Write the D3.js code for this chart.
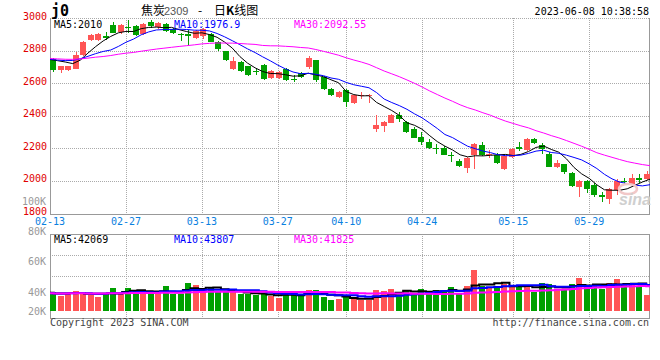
<!DOCTYPE html>
<html><head><meta charset="utf-8">
<script src="https://cdn.jsdelivr.net/npm/d3@7/dist/d3.min.js"></script>
<style>body{margin:0;background:#fff}svg{display:block}</style>
</head><body><svg id="c" width="660" height="360"></svg>
<script>
// ---------- data ----------
const dates = ["02-13","02-14","02-15","02-16","02-17","02-20","02-21","02-22","02-23","02-24","02-27","02-28",
"03-01","03-02","03-03","03-06","03-07","03-08","03-09","03-10","03-13","03-14","03-15","03-16","03-17","03-20","03-21","03-22","03-23","03-24","03-27","03-28","03-29","03-30","03-31",
"04-03","04-04","04-06","04-07","04-10","04-11","04-12","04-13","04-14","04-17","04-18","04-19","04-20","04-21","04-24","04-25","04-26","04-27","04-28",
"05-04","05-05","05-08","05-09","05-10","05-11","05-12","05-15","05-16","05-17","05-18","05-19","05-22","05-23","05-24","05-25","05-26","05-29","05-30","05-31",
"06-01","06-02","06-05","06-06","06-07","06-08"];
const opens  = [2751,2683,2680,2690,2771,2865,2868,2892,2960,2915,2945,2948,2900,2976,2945,2966,2935,2904,2900,2880,2888,2900,2855,2795,2690,2730,2703,2672,2710,2633,2630,2690,2627,2660,2700,2740,2638,2567,2515,2561,2479,2523,2520,2321,2338,2358,2403,2362,2317,2270,2236,2203,2205,2162,2123,2082,2158,2223,2160,2158,2076,2147,2209,2188,2256,2223,2168,2086,2102,2049,1963,2000,1974,1912,1886,1943,2000,1984,2015,2009];
const highs  = [2757,2706,2708,2790,2856,2900,2905,2915,2975,2965,2990,2955,2970,2985,2975,2972,2940,2910,2925,2925,2940,2905,2860,2800,2762,2735,2708,2690,2715,2680,2675,2695,2650,2670,2765,2745,2645,2570,2550,2565,2530,2545,2535,2402,2365,2410,2423,2365,2330,2300,2256,2225,2215,2178,2135,2145,2235,2240,2190,2170,2160,2200,2240,2262,2262,2230,2175,2130,2105,2055,2003,2005,1985,1932,1958,2010,2020,2045,2045,2060];
const lows   = [2668,2663,2677,2686,2768,2858,2860,2865,2905,2900,2910,2890,2895,2940,2930,2915,2900,2860,2826,2870,2870,2850,2800,2738,2683,2670,2645,2650,2620,2628,2625,2612,2605,2630,2690,2610,2560,2520,2510,2454,2475,2505,2479,2301,2300,2355,2362,2295,2262,2219,2195,2168,2160,2117,2085,2049,2076,2150,2140,2105,2070,2140,2185,2185,2225,2165,2085,2080,2040,1960,1902,1923,1900,1871,1861,1912,1978,1975,1990,2005];
const closes = [2680,2703,2705,2771,2850,2895,2900,2880,2910,2960,2938,2898,2966,2949,2970,2920,2908,2895,2890,2918,2935,2853,2812,2742,2735,2675,2653,2666,2628,2675,2670,2620,2622,2637,2757,2617,2567,2526,2546,2485,2526,2527,2530,2341,2360,2403,2377,2301,2266,2239,2205,2195,2162,2150,2090,2141,2229,2158,2168,2107,2151,2194,2195,2256,2232,2195,2088,2110,2052,1967,2000,1949,1912,1900,1953,1998,1995,2017,2003,2041];
// closes of the 29 sessions before 02-13 (needed for the moving averages)
const prevCloses = [2760,2775,2790,2770,2745,2730,2755,2730,2720,2745,2765,2740,2750,2770,2760,2745,2735,2750,2765,2760,2755,2740,2760,2745,2745,2738,2745,2821,2741];
const volumes = [32000,25200,28100,33700,32000,26500,23600,28100,38700,30300,38700,34800,32000,29300,28100,41600,29300,29300,47100,43300,34800,40400,32000,32000,32000,29300,29300,26500,29300,24700,22500,33200,26500,24700,34800,34800,23600,18000,19700,24700,21900,18000,18000,34800,33200,36600,29800,34800,28100,36600,32000,34800,33200,39900,30400,41600,68600,41600,39900,41600,44400,40400,41600,40400,32000,47200,45000,34800,37600,45500,55600,40400,43300,37600,47200,53400,45000,45000,40400,26500];
const prevVolumes = [31500,27200,30800,26400,33100,29000,28300,31900,27500,30200,29600,26800,32400,28700,30100,29300,27900,31200,28400,30600,29800,28200,30900,27700,29500,30400,28600,29900,31000];
const priceTicks = [1800,2000,2200,2400,2600,2800,3000];
const volTicks = [100000,80000,60000,40000,20000];
const dateTicks = ["02-13","02-27","03-13","03-27","04-10","04-24","05-15","05-29"];
const priceMaLabels = ["MA5:2010","MA10:1976.9","MA30:2092.55"];
const volMaLabels = ["MA5:42069","MA10:43807","MA30:41825"];
const maColors = ["#000000","#0000ff","#ff00ff"];
const maPeriods = [5,10,30];

// ---------- setup ----------
const svg = d3.select("#c");
const MONO = "'DejaVu Sans Mono', monospace";
const RED = "#ff5555", GREEN = "#00a000";
const n = closes.length;
const L = 50, R = 650, PT = 18, PB = 213.5, VT = 234, VB = 318;

const xBand = d3.scaleBand().domain(d3.range(n)).range([L, R]).paddingInner(0.2).paddingOuter(0);
const xLin = d3.scaleLinear().domain([0, n - 1]).range([L, R]);
const yP = d3.scaleLinear().domain([1800, 3000]).range([PB, PT]);
const yV = d3.scaleLinear().domain([0, 129000]).range([311, VT]);
const yVLabel = d3.scaleLinear().domain([40000, 100000]).range([292, 201.5]);

function ma(prev, cur, p) {
  const all = prev.concat(cur), off = prev.length;
  return cur.map((_, i) => d3.mean(all.slice(off + i - p + 1, off + i + 1)));
}
const crisp = v => Math.round(v) + 0.5;
const tickIdx = dateTicks.map(t => dates.indexOf(t));

// ---------- grids ----------
const grid = svg.append("g").attr("stroke", "#aaa").attr("stroke-dasharray", "1,1").attr("shape-rendering", "crispEdges");
priceTicks.filter(t => t > 1800).forEach(t => {
  grid.append("line").attr("x1", L).attr("x2", R).attr("y1", crisp(yP(t))).attr("y2", crisp(yP(t)));
});
tickIdx.filter(i => i > 0).forEach(i => {
  const x = crisp(xLin(i));
  grid.append("line").attr("x1", x).attr("x2", x).attr("y1", PT).attr("y2", PB);
  grid.append("line").attr("x1", x).attr("x2", x).attr("y1", VT).attr("y2", VB);
});
[1, 2].forEach(k => {
  const y = crisp(VT + (VB - VT) * k / 4);
  grid.append("line").attr("x1", L).attr("x2", R).attr("y1", y).attr("y2", y);
});

// ---------- frames ----------
const fr = svg.append("g").attr("stroke", "#999").attr("fill", "none").attr("shape-rendering", "crispEdges");
fr.append("path").attr("d", `M${L+0.5},${PT}V${crisp(PB)}H${R}M${R-0.5},${PT}V${crisp(PB)}`);
fr.append("rect").attr("x", L + 0.5).attr("y", VT + 0.5).attr("width", R - L - 1).attr("height", VB - VT);

// ---------- candles ----------
const bw = Math.round(xBand.bandwidth());
const cg = svg.append("g").attr("shape-rendering", "crispEdges");
d3.range(n).forEach(i => {
  const up = closes[i] >= opens[i];
  const col = up ? RED : GREEN;
  const bx = Math.round(xBand(i));
  const cx = bx + Math.floor(bw / 2) + 0.5;
  cg.append("line").attr("x1", cx).attr("x2", cx)
    .attr("y1", Math.round(yP(highs[i]))).attr("y2", Math.round(yP(lows[i])))
    .attr("stroke", col);
  const top = Math.round(yP(Math.max(opens[i], closes[i])));
  const bot = Math.round(yP(Math.min(opens[i], closes[i])));
  cg.append("rect").attr("x", bx).attr("y", top).attr("width", bw).attr("height", Math.max(1, bot - top)).attr("fill", col);
});

// ---------- price MAs ----------
maPeriods.forEach((p, k) => {
  const vals = ma(prevCloses, closes, p);
  svg.append("path").datum(vals)
    .attr("d", d3.line().x((d, i) => xLin(i)).y(d => yP(d)))
    .attr("fill", "none").attr("stroke", maColors[k]).attr("stroke-width", 1);
});

// ---------- volume ----------
const vg = svg.append("g").attr("shape-rendering", "crispEdges");
d3.range(n).forEach(i => {
  const up = closes[i] >= opens[i];
  const bx = Math.round(xBand(i));
  const top = Math.round(yV(volumes[i]));
  vg.append("rect").attr("x", bx).attr("y", top).attr("width", bw).attr("height", Math.round(yV(0)) - top)
    .attr("fill", up ? RED : GREEN);
});
maPeriods.forEach((p, k) => {
  const vals = ma(prevVolumes, volumes, p);
  svg.append("path").datum(vals)
    .attr("d", d3.line().x((d, i) => xLin(i)).y(d => yV(d)).curve(d3.curveStep))
    .attr("fill", "none").attr("stroke", maColors[k]).attr("stroke-width", 2);
});

// ---------- axis labels ----------
const lab = svg.append("g").attr("font-family", MONO).attr("font-size", 10);
priceTicks.forEach(t => {
  lab.append("text").attr("x", 47).attr("y", Math.max(yP(t) - 2, 15.5)).attr("dy", "0.35em")
    .attr("text-anchor", "end").attr("fill", "#e00000").text(t);
});
volTicks.forEach(t => {
  lab.append("text").attr("x", 46).attr("y", Math.min(yVLabel(t), 311)).attr("dy", "0.35em")
    .attr("text-anchor", "end").attr("fill", "#999").text(d3.format("d")(t / 1000) + "K");
});
tickIdx.forEach((i, k) => {
  lab.append("text").attr("x", xLin(i)).attr("y", 225).attr("text-anchor", "middle")
    .attr("fill", "#0a80e0").text(dateTicks[k]);
});

// ---------- legends ----------
const legX = [54, 174, 294];
priceMaLabels.forEach((t, k) => lab.append("text").attr("x", legX[k]).attr("y", 27.5).attr("fill", maColors[k]).text(t));
volMaLabels.forEach((t, k) => lab.append("text").attr("x", legX[k]).attr("y", 242.5).attr("fill", maColors[k]).text(t));

// ---------- header / footer ----------
svg.append("text").attr("x", 51).attr("y", 16).attr("font-family", MONO).attr("font-size", 15)
  .attr("font-weight", "bold").attr("fill", "#000").text("j0");
const title = svg.append("text").attr("y", 15).attr("font-family", "'Noto Sans CJK SC', sans-serif").attr("font-size", 12).attr("fill", "#000");
title.append("tspan").attr("x", 141).text("焦炭");
title.append("tspan").attr("x", 164).attr("font-family", "'Liberation Sans', sans-serif").attr("font-size", 11).attr("fill", "#555").text("2309");
title.append("tspan").attr("x", 198).text("-");
title.append("tspan").attr("x", 214).text("日");
title.append("tspan").attr("font-weight", "bold").text("K");
title.append("tspan").text("线图");
svg.append("text").attr("x", 649).attr("y", 15).attr("text-anchor", "end").attr("font-family", MONO).attr("font-size", 10)
  .attr("fill", "#000").text("2023-06-08 10:38:58");
svg.append("text").attr("x", 50).attr("y", 326).attr("font-family", MONO).attr("font-size", 10)
  .attr("fill", "#444").text("Copyright 2023 SINA.COM");
svg.append("text").attr("x", 649).attr("y", 326).attr("text-anchor", "end").attr("font-family", MONO).attr("font-size", 10)
  .attr("fill", "#444").text("http://finance.sina.com.cn");

// watermark
svg.append("ellipse").attr("cx", 628).attr("cy", 189).attr("rx", 9).attr("ry", 5)
  .attr("fill", "none").attr("stroke", "#f2c8c8").attr("stroke-width", 2.5);
svg.append("text").attr("x", 619).attr("y", 205).attr("font-family", "'Liberation Sans', sans-serif")
  .attr("font-size", 16).attr("font-weight", "bold").attr("font-style", "italic").attr("fill", "#cfcfcf").text("sina");
</script></body></html>
